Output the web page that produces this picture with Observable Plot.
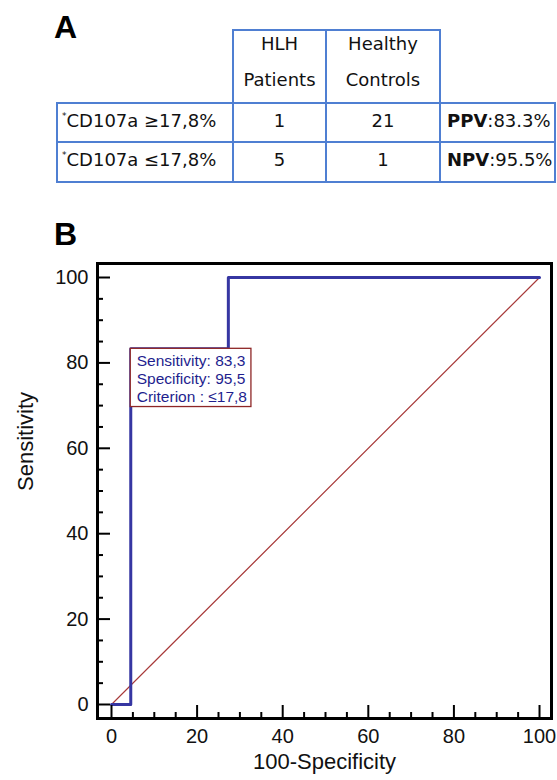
<!DOCTYPE html>
<html><head><meta charset="utf-8">
<script src="https://cdn.jsdelivr.net/npm/d3@7"></script>
<script src="https://cdn.jsdelivr.net/npm/@observablehq/plot@0.6"></script>
<style>
body{margin:0;background:#fff;}
#page{position:relative;width:557px;height:780px;overflow:hidden;background:#fff;}
.panel{position:absolute;font:bold 32px "Liberation Sans",Arial,sans-serif;line-height:32px;color:#000;}
.box{position:absolute;box-sizing:border-box;border:2px solid #4f7fd2;}
.txt{position:absolute;font-family:"DejaVu Sans",sans-serif;font-size:18px;color:#111;white-space:nowrap;}
.txt sup{font-size:9px;vertical-align:8px;line-height:0;}
#chart{position:absolute;left:0;top:250px;}
</style></head><body><div id="page"></div>
<script>
// ---- Panel A: 2x2 table ----
const columnHeaders = [["HLH", "Patients"], ["Healthy", "Controls"]];
const rowLabels = ["CD107a ≥17,8%", "CD107a ≤17,8%"];
const hlhPatients = [1, 5];
const healthyControls = [21, 1];
const predictiveLabels = ["PPV", "NPV"];
const predictiveValues = ["83.3%", "95.5%"];

// ---- Panel B: ROC curve ----
const falsePositiveRate = [0, 4.5, 4.5, 27.3, 27.3, 100];   // 100-Specificity
const sensitivity      = [0, 0, 83.3, 83.3, 100, 100];
const chanceLine = [0, 100];
const cutoffSpecificity = 95.5;
const cutoffSensitivity = 83.3;
const annotationLines = ["Sensitivity: 83,3", "Specificity: 95,5", "Criterion : ≤17,8"];
const xMajorTicks = [0, 20, 40, 60, 80, 100];
const xMinorTicks = [5, 10, 15, 25, 30, 35, 45, 50, 55, 65, 70, 75, 85, 90, 95];
const yMajorTicks = [0, 20, 40, 60, 80, 100];
const yMinorTicks = [5, 10, 15, 25, 30, 35, 45, 50, 55, 65, 70, 75, 85, 90, 95];

const page = document.getElementById("page");
function el(cls, style, html) {
  const d = document.createElement("div");
  d.className = cls;
  Object.assign(d.style, style);
  if (html != null) d.innerHTML = html;
  page.appendChild(d);
  return d;
}
el("panel", {left: "54px", top: "11px"}, "A");
el("panel", {left: "54px", top: "218px"}, "B");

const colX = [57, 233, 326, 440, 555];
const headTop = 30, rowY = [103, 142, 182];
// header boxes
for (let c = 0; c < 2; c++) {
  el("box", {left: (colX[c + 1] - 1) + "px", top: (headTop - 1) + "px",
    width: (colX[c + 2] - colX[c + 1] + 2) + "px", height: (rowY[0] - headTop + 2) + "px"});
  el("txt", {left: colX[c + 1] + "px", width: (colX[c + 2] - colX[c + 1]) + "px", top: (headTop - 4) + "px",
    lineHeight: "36px", textAlign: "center"}, columnHeaders[c].join("<br>"));
}
// data rows
for (let r = 0; r < 2; r++) {
  for (let c = 0; c < 4; c++) {
    el("box", {left: (colX[c] - 1) + "px", top: (rowY[r] - 1) + "px",
      width: (colX[c + 1] - colX[c] + 2) + "px", height: (rowY[r + 1] - rowY[r] + 2) + "px"});
  }
  const top = (rowY[r] + 4) + "px", lh = "28px";
  el("txt", {left: (colX[0] + 5) + "px", top, lineHeight: lh}, "<sup>*</sup>" + rowLabels[r]);
  el("txt", {left: colX[1] + "px", width: (colX[2] - colX[1]) + "px", top, lineHeight: lh, textAlign: "center"}, String(hlhPatients[r]));
  el("txt", {left: colX[2] + "px", width: (colX[3] - colX[2]) + "px", top, lineHeight: lh, textAlign: "center"}, String(healthyControls[r]));
  el("txt", {left: (colX[3] + 7) + "px", top, lineHeight: lh}, "<b>" + predictiveLabels[r] + "</b>:" + predictiveValues[r]);
}

// ---- ROC chart ----
const W = 557, H = 530, mT = 13, mB = 62, mL = 97, mR = 6;
const plotH = H - mT - mB, plotW = W - mL - mR;
const roc = falsePositiveRate.map((x, i) => ({x, y: sensitivity[i]}));
const diag = chanceLine.map(v => ({x: v, y: v}));
const cut = [{x: 100 - cutoffSpecificity, y: cutoffSensitivity, label: annotationLines.join("\n")}];
const font = '"Liberation Sans", Arial, sans-serif';

const chart = Plot.plot({
  width: W, height: H, marginTop: mT, marginBottom: mB, marginLeft: mL, marginRight: mR,
  style: {fontFamily: font, background: "transparent", color: "#111"},
  x: {domain: [-3.27, 102.8]},
  y: {domain: [-3.28, 103.28]},
  marks: [
    Plot.line(diag, {x: "x", y: "y", stroke: "#a83a3a", strokeWidth: 1.2}),
    Plot.line(roc, {x: "x", y: "y", stroke: "#3636a2", strokeWidth: 3}),
    Plot.text(cut, {x: "x", y: "y", text: "label", textAnchor: "start", lineAnchor: "top",
      dx: 6, dy: 4, fontSize: 15.5, lineHeight: 1.16, fill: "#1e1e8e", className: "roc-annot"}),
    Plot.tickX(xMajorTicks, {x: d => d, insetTop: plotH - 13, stroke: "#000", strokeWidth: 2}),
    Plot.tickX(xMinorTicks, {x: d => d, insetTop: plotH - 6, stroke: "#000", strokeWidth: 2}),
    Plot.tickY(yMajorTicks, {y: d => d, insetRight: plotW - 13, stroke: "#000", strokeWidth: 2}),
    Plot.tickY(yMinorTicks, {y: d => d, insetRight: plotW - 6, stroke: "#000", strokeWidth: 2}),
    Plot.axisX({ticks: xMajorTicks, tickSize: 0, tickPadding: 10, fontSize: 20, label: null}),
    Plot.axisY({ticks: yMajorTicks, tickSize: 0, tickPadding: 9, fontSize: 20, label: null}),
    Plot.frame({stroke: "#000", strokeWidth: 3}),
    Plot.text(["100-Specificity"], {frameAnchor: "bottom", dy: 50, fontSize: 22, fill: "#111"}),
    Plot.text(["Sensitivity"], {frameAnchor: "left", dx: -72, rotate: -90, fontSize: 22, fill: "#111"})
  ]
});
chart.id = "chart";
page.appendChild(chart);

// white box behind the cut-off annotation, anchored at the cut-off point
const g = chart.querySelector("g.roc-annot");
const rect = document.createElementNS("http://www.w3.org/2000/svg", "rect");
rect.setAttribute("fill", "#fff");
rect.setAttribute("stroke", "#8e2626");
rect.setAttribute("stroke-width", 1.3);
if (g) g.parentNode.insertBefore(rect, g);
function sizeBox() {
  if (!g) return;
  const sx = chart.scale("x").apply(cut[0].x), sy = chart.scale("y").apply(cut[0].y);
  const svgBox = chart.getBoundingClientRect();
  const tb = g.getBoundingClientRect();
  const right = tb.right - svgBox.left, bottom = tb.bottom - svgBox.top;
  rect.setAttribute("x", sx);
  rect.setAttribute("y", sy);
  rect.setAttribute("width", Math.max(10, right + 4 - sx));
  rect.setAttribute("height", Math.max(10, bottom + 2 - sy));
}
sizeBox();
if (document.fonts && document.fonts.ready) document.fonts.ready.then(sizeBox);
requestAnimationFrame(sizeBox);
</script></body></html>
